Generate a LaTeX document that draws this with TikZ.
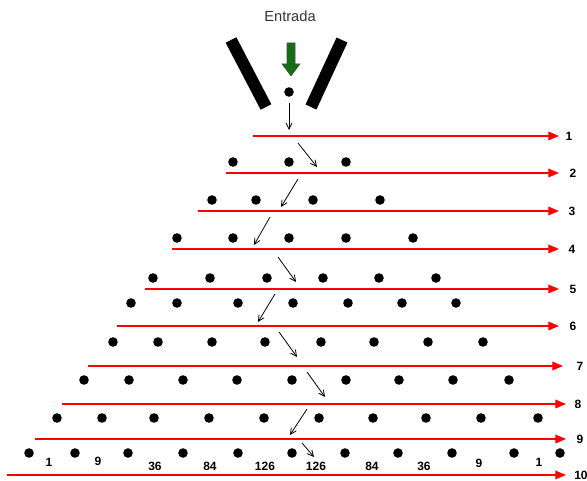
\documentclass[tikz,border=0pt]{standalone}
\usepackage{fontspec}
\setmainfont{Liberation Sans}
\usepackage{xcolor}
\definecolor{funnelgreen}{RGB}{20, 110, 20}
\usetikzlibrary{arrows.meta,positioning}

\begin{document}
\begin{tikzpicture}[
  x=0.75pt, y=-0.75pt,
  ball/.style={circle, fill=black, inner sep=0pt, minimum size=7.2pt},
  level/.style={-{Triangle[length=8pt,width=6.5pt]}, draw=red, line width=0.9pt},
  route/.style={-{Straight Barb[length=4.5pt,width=4.5pt]}, line width=0.6pt},
  lbl/.style={font=\bfseries\fontsize{9}{10}\selectfont, inner sep=0pt},
  wall/.style={line width=9pt}
]
\useasboundingbox (0,0) rectangle (587,481);

% funnel
\node[font=\fontsize{11}{12}\selectfont, text=black!80] (entrada) at (290,16) {Entrada};
\draw[wall] (231,40) -- (266,107);
\draw[wall] (342,40) -- (311,107);
\draw[fill=funnelgreen, draw=black!70, line width=0.4pt]
  (287,43) -- (295,43) -- (295,64) -- (300,64) -- (291,76) -- (282,64) -- (287,64) -- cycle;

% balls, row by row
\foreach \r/\y/\xs in {
  1/92/{289},
  2/162/{233,289,346},
  3/200/{212,256,313,380},
  4/238/{177,233,289,346,413},
  5/278/{153,210,267,323,379,436},
  6/303/{131,177,238,293,348,402,456},
  7/342/{113,158,212,265,321,374,428,483},
  8/380/{84,129,183,237,292,346,399,453,509},
  9/418/{57,102,154,209,264,319,373,426,481,538},
  10/453/{29,75,128,183,238,292,345,398,452,514,560}}
{
  \foreach \x [count=\k] in \xs {
    \node[ball] (b\r-\k) at (\x,\y) {};
  }
}

% levels
\foreach \i/\xa/\xb/\y/\xl in {
  1/253/559/136/569, 2/226/559/173/573, 3/198/559/211/572,
  4/172/559/249/572, 5/145/559/289/573, 6/117/559/326/573,
  7/88/563/366/580, 8/62/566/404/578, 9/35/566/439/580,
  10/7/566/475/581}
{
  \coordinate (s\i) at (\xa,\y);
  \coordinate (e\i) at (\xb,\y);
  \draw[level] (s\i) -- (e\i);
  \node[lbl] (n\i) at (\xl,\y) {\i};
}

% path of the ball
\foreach \i/\xa/\ya/\xb/\yb in {
  0/289/103/289/130, 1/298/143/317/167, 2/298/179/281/207,
  3/270/217/254/245, 4/278/257/296/282, 5/275/294/258/322,
  6/279/332/297/357, 7/307/372/325/397, 8/307/409/290/435,
  9/302/443/314/457}
{
  \coordinate (p\i) at (\xa,\ya);
  \coordinate (q\i) at (\xb,\yb);
  \draw[route] (p\i) -- (q\i);
}

% counts at the bottom
\foreach \v/\x/\y [count=\k] in {
  1/49/462, 9/98/461, 36/155/466, 84/210/466, 126/265/466,
  126/316/466, 84/372/466, 36/424/466, 9/479/463, 1/539/462}
{
  \node[lbl] (c\k) at (\x,\y) {\v};
}
\end{tikzpicture}
\end{document}
